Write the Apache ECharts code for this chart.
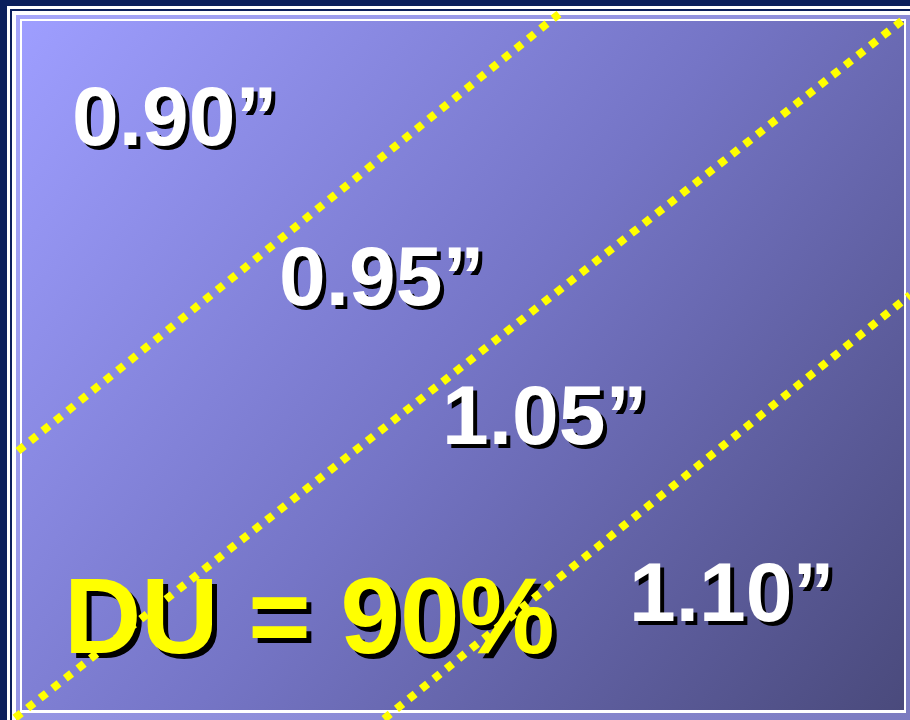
<!DOCTYPE html>
<html>
<head>
<meta charset="utf-8">
<title>DU = 90%</title>
<script src="https://cdn.jsdelivr.net/npm/echarts/dist/echarts.min.js"></script>
<style>
  html, body { margin: 0; padding: 0; background: #0b1f5c; }
  #chart { width: 910px; height: 720px; }
</style>
</head>
<body>
<div id="chart"></div>
<script>
// Field coordinates run 0..910 across and 0..720 down the panel.
// Iso-depth lines (applied water, inches), each given by its two ends.
const line090to095 = [[18, 451], [559, 14]];
const line095to105 = [[15, 718], [908, 16]];
const line105to110 = [[384, 719], [910, 295]];

// Depth labels and where each one sits in the field.
const depthLabels = ['0.90\u201D', '0.95\u201D', '1.05\u201D', '1.10\u201D'];
const depthLabelX = [72, 279, 442, 629];
const depthLabelY = [122, 282, 421, 598];

// Distribution uniformity caption.
const duText = 'DU = 90%';
const duAnchor = [64, 623];

const chart = echarts.init(document.getElementById('chart'), null, { renderer: 'canvas' });

const dotted = {
  color: '#ffff00',
  width: 8,
  type: [8, 8],
  cap: 'butt'
};

function lineSeries(name, pts) {
  return {
    name: name,
    type: 'line',
    data: pts,
    symbol: 'none',
    z: 6,
    silent: true,
    clip: false,
    lineStyle: dotted
  };
}

const labelData = depthLabels.map((t, i) => ({
  value: [depthLabelX[i], depthLabelY[i]],
  name: t
}));

const option = {
  animation: false,
  backgroundColor: '#0b1f5c',
  grid: { left: 0, right: 0, top: 0, bottom: 0 },
  xAxis: { type: 'value', min: 0, max: 910, show: false },
  yAxis: { type: 'value', min: 0, max: 720, inverse: true, show: false },
  graphic: [
    // slide frame: navy / white / navy / white bands
    { type: 'rect', shape: { x: 7, y: 6, width: 920, height: 730 }, style: { fill: '#ffffff' } },
    { type: 'rect', shape: { x: 10, y: 9, width: 920, height: 730 }, style: { fill: '#0b1f5c' } },
    { type: 'rect', shape: { x: 12, y: 11, width: 920, height: 730 }, style: { fill: '#ffffff' } },
    // lavender mat
    { type: 'rect', shape: { x: 16, y: 15, width: 920, height: 730 },
      style: { fill: new echarts.graphic.LinearGradient(0, 0, 1, 1, [
        { offset: 0, color: '#a6a6fa' },
        { offset: 1, color: '#7a7abe' }
      ]) } },
    // white keyline
    { type: 'rect', shape: { x: 20, y: 19, width: 886, height: 694 }, style: { fill: '#ffffff' } },
    // field panel
    { type: 'rect', shape: { x: 22, y: 21, width: 882, height: 689 },
      style: { fill: new echarts.graphic.LinearGradient(0, 0, 1, 1, [
        { offset: 0, color: '#9e9eff' },
        { offset: 0.5, color: '#7575c6' },
        { offset: 1, color: '#4a4a7c' }
      ]) } }
  ],
  series: [
    {
      name: 'depths',
      type: 'scatter',
      z: 4,
      silent: true,
      symbolSize: 1,
      itemStyle: { color: 'transparent', opacity: 1 },
      data: labelData,
      label: {
        show: true,
        position: 'inside',
        align: 'left',
        verticalAlign: 'middle',
        formatter: p => p.name,
        color: '#ffffff',
        opacity: 1,
        fontFamily: '"Liberation Sans", Arial, sans-serif',
        fontWeight: 'bold',
        fontSize: 84,
        textShadowColor: '#000000',
        textShadowBlur: 0.5,
        textShadowOffsetX: 4,
        textShadowOffsetY: 4
      }
    },
    {
      name: 'du',
      type: 'scatter',
      z: 4,
      silent: true,
      symbolSize: 1,
      itemStyle: { color: 'transparent', opacity: 1 },
      data: [{ value: duAnchor, name: duText }],
      label: {
        show: true,
        position: 'inside',
        align: 'left',
        verticalAlign: 'middle',
        formatter: p => p.name,
        color: '#ffff00',
        opacity: 1,
        fontFamily: '"Liberation Sans", Arial, sans-serif',
        fontWeight: 'bold',
        fontSize: 107,
        textShadowColor: '#000000',
        textShadowBlur: 0.5,
        textShadowOffsetX: 5,
        textShadowOffsetY: 5
      }
    },
    lineSeries('0.90-0.95', line090to095),
    lineSeries('0.95-1.05', line095to105),
    lineSeries('1.05-1.10', line105to110)
  ]
};

chart.setOption(option);
</script>
</body>
</html>
